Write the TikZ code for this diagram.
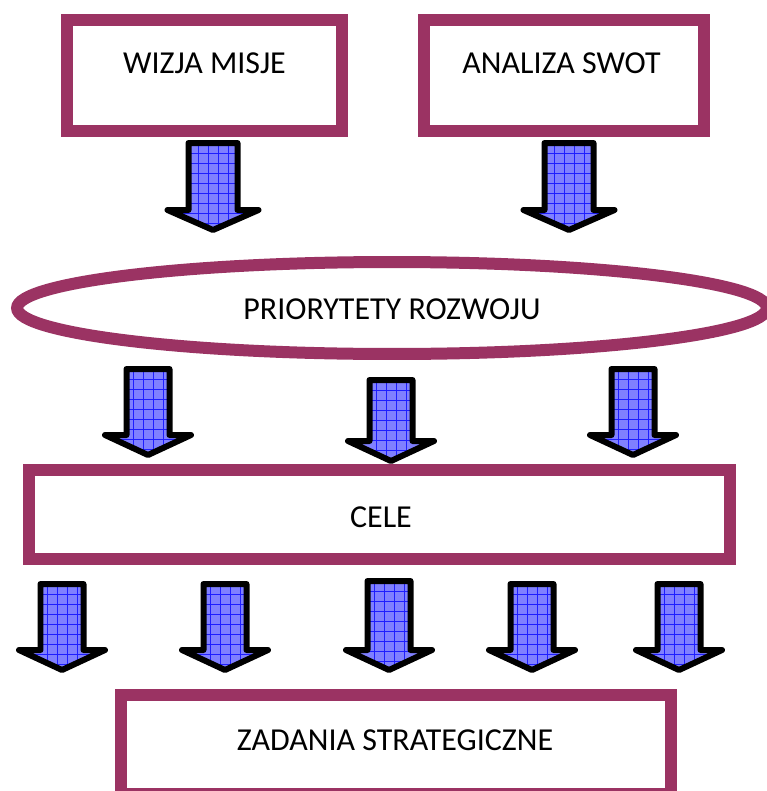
\documentclass[tikz,border=0pt]{standalone}
\usepackage{fontspec}
\setmainfont{Carlito}
\usepackage{xcolor}
\usepackage{tikz}
\usetikzlibrary{positioning}

\definecolor{framecol}{RGB}{155,51,99}
\definecolor{arrowblue}{RGB}{128,128,255}
\definecolor{gridblue}{RGB}{30,30,255}

\tikzset{
  box/.style={draw=framecol, line width=0.24cm, fill=white, inner sep=0pt},
  boxtext/.style={inner sep=0pt, text height=11.5pt, text depth=0pt, font=\fontsize{18.2}{20}\selectfont},
  blockarrow/.style={draw=black, line width=0.12cm, line join=round, fill=arrowblue},
  gridline/.style={gridblue, line width=0.45pt}
}

\begin{document}
\begin{tikzpicture}[x=0.02cm, y=-0.02cm]
 \useasboundingbox (0,0) rectangle (767,791);

 %level 1
 \node[box, minimum width=5.5cm, minimum height=2.22cm] (wizja) at (204.5,75.5) {};
 \node[box, minimum width=5.6cm, minimum height=2.22cm] (swot) at (564,75.5) {};
 \node[boxtext] (wizjaT) at (204.5,63.5) {WIZJA MISJE};
 \node[boxtext] (swotT) at (561.5,63) {ANALIZA SWOT};

 %level 2
 \draw[box] (392,308) ellipse [x radius=7.5cm, y radius=0.92cm];
 \node[boxtext] (prio) at (392,309) {PRIORYTETY ROZWOJU};

 %level 3
 \node[box, minimum width=14.02cm, minimum height=1.78cm] (cele) at (379.5,514.5) {};
 \node[boxtext] (celeT) at (381,517) {CELE};

 %level 4
 \node[box, minimum width=11cm, minimum height=1.98cm] (zad) at (396,744.5) {};
 \node[boxtext] (zadT) at (395,740) {ZADANIA STRATEGICZNE};

 %arrows
 \foreach \xc/\ya/\yb/\sw/\hw in {213/143/230/24.5/45.5, 569/143/230/24.5/45.5,
        148/369/455/21.5/43, 391/380/461/21.5/43, 633/369/455/21.5/43,
        62/584/670/21.5/43, 225/584/670/21.5/43, 389/581/670/21.5/43, 532/584/670/21.5/43, 679/584/670/21.5/43} {
   \draw[blockarrow, path picture={
         \foreach \k in {1,...,9} \draw[gridline] (\xc-50,\ya+\k*10) -- (\xc+50,\ya+\k*10);
         \foreach \k in {-15,-5,5,15} \draw[gridline] (\xc+\k,\ya) -- (\xc+\k,\yb);
       }]
     (\xc-\sw,\ya) -- (\xc+\sw,\ya) -- (\xc+\sw,\yb-20) -- (\xc+\hw,\yb-20)
     -- (\xc,\yb) -- (\xc-\hw,\yb-20) -- (\xc-\sw,\yb-20) -- cycle;
 }

\end{tikzpicture}
\end{document}
